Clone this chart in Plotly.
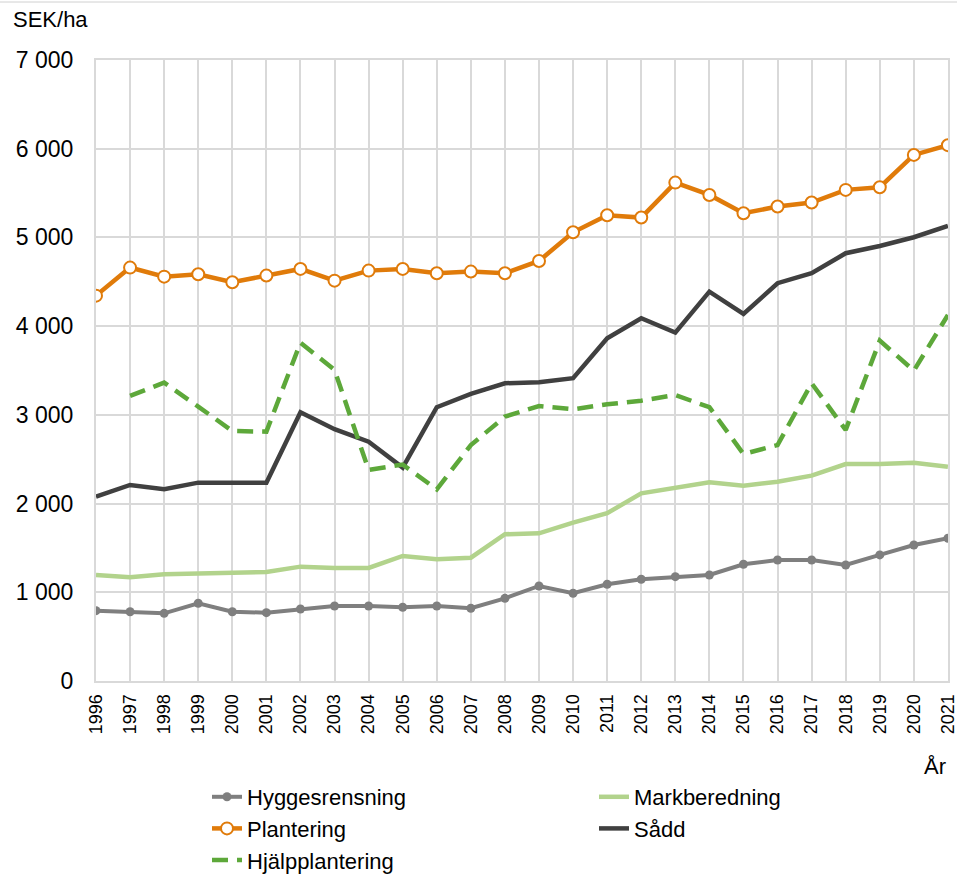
import plotly.graph_objects as go

years = list(range(1996, 2022))

hyggesrensning = [793, 781, 763, 876, 781, 770, 812, 846, 846, 831, 846, 820, 932, 1071, 989,
                  1090, 1147, 1176, 1195, 1316, 1364, 1364, 1308, 1421, 1533, 1609]
markberedning = [1195, 1169, 1203, 1214, 1229, 1229, 1289, 1274, 1274, 1409, 1372, 1390, 1654,
                 1665, 1785, 1891, 2116, 2184, 2240, 2202, 2247, 2315, 2446, 2446, 2461, 2416]
plantering = [4344, 4660, 4558, 4585, 4495, 4570, 4645, 4513, 4626, 4645, 4596, 4615, 4596,
              4735, 5058, 5250, 5224, 5618, 5479, 5273, 5348, 5393, 5536, 5566, 5930, 6040]
sadd = [2078, 2210, 2161, 2236, 2236, 2236, 3029, 2838, 2698, 2405, 3086, 3236, 3356, 3368,
        3413, 3864, 4089, 3927, 4389, 4138, 4484, 4596, 4822, 4904, 5002, 5130]
hjalpplantering = [None, 3213, 3363, 3093, 2818, 2811, 3814, 3506, 2379, 2440, 2160, 2660, 2980,
                   3100, 3063, 3119, 3160, 3224, 3086, 2559, 2660, 3356, 2830, 3837, 3498, 4126]

y_ticks = [0, 1000, 2000, 3000, 4000, 5000, 6000, 7000]
y_ticktext = ["0", "1 000", "2 000", "3 000", "4 000", "5 000", "6 000", "7 000"]

FONT = "Liberation Sans, Arial, sans-serif"

W, H = 957, 874
L, R, T, B = 96, 9, 60, 193
PW, PH = W - L - R, H - T - B

fig = go.Figure()
fig.add_trace(go.Scatter(x=years, y=hyggesrensning, name="Hyggesrensning", mode="lines+markers",
                         line=dict(color="#7f7f7f", width=4),
                         marker=dict(color="#7f7f7f", size=9)))
fig.add_trace(go.Scatter(x=years, y=markberedning, name="Markberedning", mode="lines",
                         line=dict(color="#b2d38c", width=4.5)))
fig.add_trace(go.Scatter(x=years, y=plantering, name="Plantering", mode="lines+markers",
                         line=dict(color="#e07b0a", width=4.5),
                         marker=dict(color="white", size=12,
                                     line=dict(color="#e07b0a", width=2))))
fig.add_trace(go.Scatter(x=years, y=sadd, name="Sådd", mode="lines",
                         line=dict(color="#404040", width=4.5)))
fig.add_trace(go.Scatter(x=years, y=hjalpplantering, name="Hjälpplantering", mode="lines",
                         line=dict(color="#5da83a", width=4.5, dash="16px,9px")))

fig.update_layout(
    width=W, height=H,
    margin=dict(l=L, r=R, t=T, b=B, autoexpand=False),
    paper_bgcolor="white", plot_bgcolor="white",
    font=dict(family=FONT, color="#000000", size=22),
    showlegend=True,
    legend=dict(orientation="h", x=(207 - L) / PW, xanchor="left",
                y=-95 / PH, yanchor="top",
                entrywidth=342, entrywidthmode="pixels",
                font=dict(family=FONT, size=22, color="#000000"),
                bgcolor="rgba(0,0,0,0)", tracegroupgap=0),
    xaxis=dict(range=[1996, 2021.002], tickvals=years, ticktext=[str(y) for y in years],
               tickangle=-90, showgrid=True, gridcolor="#d9d9d9", gridwidth=2,
               showline=True, linecolor="#d9d9d9", linewidth=2, mirror=True,
               zeroline=False, ticks="", tickfont=dict(size=18, family=FONT),
               ticklabelstandoff=4, ticklabeloverflow="allow", fixedrange=True),
    yaxis=dict(range=[0, 7000], tickvals=y_ticks, ticktext=y_ticktext,
               showgrid=True, gridcolor="#d9d9d9", gridwidth=2,
               showline=True, linecolor="#d9d9d9", linewidth=2, mirror=True,
               zeroline=False, ticks="", ticklabelstandoff=16,
               tickfont=dict(size=23, family=FONT), fixedrange=True),
    annotations=[
        dict(text="SEK/ha", xref="paper", yref="paper", x=-(L - 11) / PW,
             y=1 + (T - 20) / PH, xanchor="left", yanchor="middle", showarrow=False,
             font=dict(size=22, family=FONT)),
        dict(text="År", xref="paper", yref="paper", x=(935 - L) / PW,
             y=-(766 - (T + PH)) / PH, xanchor="center", yanchor="middle", showarrow=False,
             font=dict(size=22, family=FONT)),
    ],
    shapes=[
        dict(type="line", xref="paper", yref="paper", x0=-L / PW, x1=1 + R / PW,
             y0=1 + (T - 2) / PH, y1=1 + (T - 2) / PH, line=dict(color="#d0d0d0", width=1)),
    ],
)

fig.write_html("out.html", config={"displayModeBar": False},
               post_script="document.body.style.margin='0';document.body.style.overflow='hidden';")
